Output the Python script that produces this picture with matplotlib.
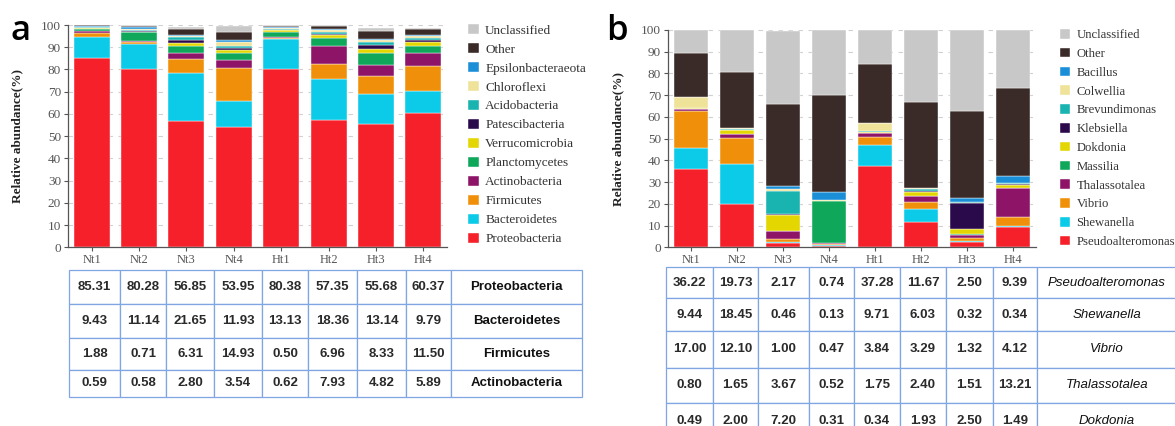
import numpy as np
import matplotlib
matplotlib.use('Agg')
import matplotlib.pyplot as plt

samples = ['Nt1', 'Nt2', 'Nt3', 'Nt4', 'Ht1', 'Ht2', 'Ht3', 'Ht4']

# panel a, phylum level (bottom -> top)
proteobacteria = [85.31, 80.28, 56.85, 53.95, 80.38, 57.35, 55.68, 60.37]
bacteroidetes = [9.43, 11.14, 21.65, 11.93, 13.13, 18.36, 13.14, 9.79]
firmicutes = [1.88, 0.71, 6.31, 14.93, 0.50, 6.96, 8.33, 11.50]
actinobacteria = [0.59, 0.58, 2.80, 3.54, 0.62, 7.93, 4.82, 5.89]
planctomycetes = [0.8, 4.0, 3.1, 3.0, 2.0, 3.5, 5.3, 3.0]
verrucomicrobia = [0.5, 0.3, 1.0, 1.3, 1.0, 1.2, 1.8, 2.0]
patescibacteria = [0.1, 0.2, 1.5, 0.8, 0.3, 0.6, 1.8, 0.8]
acidobacteria = [0.3, 0.6, 1.2, 1.0, 0.4, 1.0, 1.5, 0.8]
chloroflexi = [0.4, 0.5, 0.8, 2.0, 0.5, 0.8, 1.0, 0.8]
epsilonbacteraeota = [0.3, 0.8, 0.3, 0.7, 0.4, 0.5, 0.5, 0.4]
other_a = [0.2, 0.5, 2.5, 3.8, 0.4, 1.2, 3.5, 3.0]
unclassified_a = [0.2, 0.3, 1.2, 2.8, 0.2, 0.4, 1.5, 0.5]

# panel b, genus level (bottom -> top)
pseudoalteromonas = [36.22, 19.73, 2.17, 0.74, 37.28, 11.67, 2.50, 9.39]
shewanella = [9.44, 18.45, 0.46, 0.13, 9.71, 6.03, 0.32, 0.34]
vibrio = [17.00, 12.10, 1.00, 0.47, 3.84, 3.29, 1.32, 4.12]
thalassotalea = [0.80, 1.65, 3.67, 0.52, 1.75, 2.40, 1.51, 13.21]
massilia = [0.1, 0.1, 0.3, 19.5, 0.1, 0.3, 0.3, 0.2]
dokdonia = [0.49, 2.00, 7.20, 0.31, 0.34, 1.93, 2.50, 1.49]
klebsiella = [0.1, 0.1, 0.3, 0.05, 0.1, 0.2, 12.0, 0.2]
brevundimonas = [0.1, 0.2, 11.0, 0.1, 0.2, 0.8, 0.3, 0.5]
colwellia = [4.75, 0.5, 0.8, 0.1, 3.8, 0.5, 0.3, 0.3]
bacillus = [0.2, 0.2, 1.3, 3.5, 0.2, 0.3, 1.5, 2.9]
other_b = [20.1, 25.5, 37.8, 44.6, 27.0, 39.3, 40.25, 40.65]
unclassified_b = [10.7, 19.5, 33.5, 30.0, 15.7, 33.3, 37.2, 26.7]

names_a = ['Proteobacteria', 'Bacteroidetes', 'Firmicutes', 'Actinobacteria',
           'Planctomycetes', 'Verrucomicrobia', 'Patescibacteria', 'Acidobacteria',
           'Chloroflexi', 'Epsilonbacteraeota', 'Other', 'Unclassified']
series_a = [proteobacteria, bacteroidetes, firmicutes, actinobacteria,
            planctomycetes, verrucomicrobia, patescibacteria, acidobacteria,
            chloroflexi, epsilonbacteraeota, other_a, unclassified_a]

names_b = ['Pseudoalteromonas', 'Shewanella', 'Vibrio', 'Thalassotalea',
           'Massilia', 'Dokdonia', 'Klebsiella', 'Brevundimonas',
           'Colwellia', 'Bacillus', 'Other', 'Unclassified']
series_b = [pseudoalteromonas, shewanella, vibrio, thalassotalea,
            massilia, dokdonia, klebsiella, brevundimonas,
            colwellia, bacillus, other_b, unclassified_b]

colores = ['#f5202a', '#0ccbe8', '#f0900a', '#8e1468', '#0fa85a', '#e4d600',
           '#2a0a4a', '#19b3b0', '#efe39a', '#1a8fd8', '#3a2a28', '#c8c8c8']

# table rows
tabla_a_names = ['Proteobacteria', 'Bacteroidetes', 'Firmicutes', 'Actinobacteria']
tabla_a_vals = [proteobacteria, bacteroidetes, firmicutes, actinobacteria]
tabla_b_names = ['Pseudoalteromonas', 'Shewanella', 'Vibrio', 'Thalassotalea', 'Dokdonia']
tabla_b_vals = [pseudoalteromonas, shewanella, vibrio, thalassotalea, dokdonia]

SERIF = 'Liberation Serif'
SANS = 'Liberation Sans'
W, H = 1175, 426


def fig_rect(x0, x1, ytop, ybot):
    return [x0 / W, 1 - ybot / H, (x1 - x0) / W, (ybot - ytop) / H]


def barras(ax, series, names):
    x = np.arange(len(samples))
    bottom = np.zeros(len(samples))
    handles = []
    for vals, nom, col in zip(series, names, colores):
        b = ax.bar(x, vals, bottom=bottom, width=0.76, color=col,
                   edgecolor='white', linewidth=0.3, label=nom, zorder=2)
        bottom += np.array(vals)
        handles.append(b)
    ax.set_xlim(-0.5, len(samples) - 0.5)
    ax.set_ylim(0, 100)
    ax.set_yticks(np.arange(0, 101, 10))
    ax.set_xticks(x)
    ax.set_xticklabels(samples, fontfamily=SERIF, fontsize=9, color='#444444')
    for lab in ax.get_yticklabels():
        lab.set_fontfamily(SERIF)
        lab.set_fontsize(9.5)
        lab.set_color('#444444')
    ax.tick_params(axis='both', direction='out', length=3, width=0.8,
                   colors='#555555', pad=2)
    ax.yaxis.grid(True, linestyle=(0, (4, 5)), color='#d0d0d0', linewidth=0.8)
    ax.set_axisbelow(True)
    for s in ['top', 'right']:
        ax.spines[s].set_visible(False)
    for s in ['left', 'bottom']:
        ax.spines[s].set_color('#555555')
        ax.spines[s].set_linewidth(0.9)
    ax.set_ylabel('Relative abundance(%)', fontfamily=SERIF, fontweight='bold',
                  fontsize=9.5, color='#222222')
    return handles


def leyenda(ax, handles, x, ytop, size, sep):
    leg = ax.legend(handles[::-1], [h.get_label() for h in handles[::-1]],
                    loc='upper left', bbox_to_anchor=(x / W, 1 - ytop / H),
                    bbox_transform=ax.figure.transFigure, frameon=False,
                    prop={'family': SERIF, 'size': size}, handlelength=0.8,
                    handleheight=0.8, handletextpad=0.5, labelspacing=sep,
                    borderpad=0, borderaxespad=0)
    for t in leg.get_texts():
        t.set_color('#333333')


def tabla(rect, vals, names, colw, rowh, italic):
    tax = fig.add_axes(rect)
    tax.axis('off')
    texto = [['%.2f' % v for v in fila] + [n] for fila, n in zip(vals, names)]
    t = tax.table(cellText=texto, colWidths=[c / sum(colw) for c in colw],
                  cellLoc='center', bbox=[0, 0, 1, 1])
    t.auto_set_font_size(False)
    t.set_fontsize(9.5)
    for (r, c), cell in t.get_celld().items():
        cell.set_edgecolor('#7fa6e3')
        cell.set_linewidth(0.9)
        cell.set_height(rowh[r])
        txt = cell.get_text()
        txt.set_fontfamily(SANS)
        txt.set_fontweight('bold')
        txt.set_color('#2a2a2a')
        if c == len(colw) - 1:
            txt.set_color('#111111')
            if italic:
                txt.set_fontstyle('italic')
                txt.set_fontweight('normal')
    return t


fig = plt.figure(figsize=(W / 100, H / 100), dpi=100)

ax_a = fig.add_axes(fig_rect(68, 447, 25, 247.3))
h_a = barras(ax_a, series_a, names_a)
ax_a.yaxis.set_label_coords(-0.118, 0.5)
leyenda(ax_a, h_a, 468, 24, 9.5, 0.48)

ax_b = fig.add_axes(fig_rect(668, 1036, 30, 247.3))
h_b = barras(ax_b, series_b, names_b)
ax_b.yaxis.set_label_coords(-0.12, 0.5)
leyenda(ax_b, h_b, 1060, 29, 9.1, 0.52)

tabla(fig_rect(69, 582, 270, 397), tabla_a_vals, tabla_a_names,
      [51, 46, 48, 48, 46, 49, 49, 45, 131], [34, 34, 32, 27], False)
tabla(fig_rect(666, 1177, 267, 438), tabla_b_vals, tabla_b_names,
      [47, 45, 51, 45, 46, 46, 47, 44, 140], [31, 33, 37, 35, 35], True)

fig.text(11 / W, 1 - 40 / H, 'a', fontsize=25, fontfamily='Open Sans',
         fontweight='semibold', va='baseline')
fig.text(606 / W, 1 - 40 / H, 'b', fontsize=25, fontfamily='Open Sans',
         fontweight='semibold', va='baseline')

fig.savefig('out.png', dpi=100, facecolor='white')
